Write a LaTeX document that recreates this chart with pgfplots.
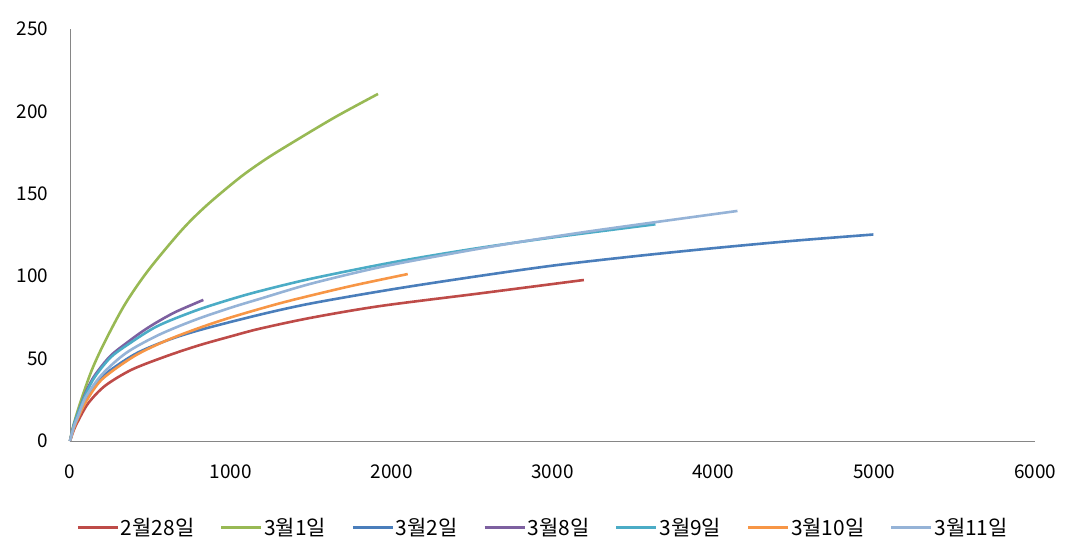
\documentclass[border=0pt]{standalone}
\usepackage{fontspec}
\setmainfont{Noto Sans CJK KR}
\usepackage{pgfplots}
\pgfplotsset{compat=1.18}

\definecolor{sRed}{HTML}{BE4B48}
\definecolor{sGreen}{HTML}{98B954}
\definecolor{sBlue}{HTML}{4A7EBB}
\definecolor{sPurple}{HTML}{7D60A0}
\definecolor{sTeal}{HTML}{4BACC6}
\definecolor{sOrange}{HTML}{F79646}
\definecolor{sLight}{HTML}{95B3D7}
\definecolor{axgray}{HTML}{868686}

\begin{document}
\begin{tikzpicture}
\begin{axis}[
    name=ax,
    scale only axis,
    width=965bp, height=412bp,
    xmin=0, xmax=6000,
    ymin=0, ymax=250,
    xtick={0,1000,...,6000},
    ytick={0,50,...,250},
    axis lines=left,
    axis line style={-, draw=axgray, line width=0.9bp},
    major tick length=0pt,
    font=\fontsize{19}{22}\selectfont,
    /pgf/number format/assume math mode=true,
    /pgf/number format/1000 sep={},
    yticklabel style={xshift=-18bp},
    xticklabel style={yshift=-20bp},
    clip=false,
    every axis plot/.append style={line width=2.6bp, no markers, smooth, tension=0.5},
    legend columns=7,
    legend style={draw=none, fill=none, at={(0.49,-0.21)}, anchor=center,
        font=\fontsize{21}{24}\selectfont,
        /tikz/every even column/.append style={column sep=24bp},
        nodes={inner sep=1.5bp}},
    legend image code/.code={\draw[#1, line width=3bp] (0bp,0bp) -- (40bp,0bp);},
]
% 2월28일
\addplot[sRed] coordinates {
(0,0) (25,7) (52,12.5) (114,23) (218,33.5) (384,43.3) (600,51.5) (800,58)
(1000,63.5) (1182,68.2) (1500,74.8) (1929,81.9) (2551,89.6) (3195,97.7)
};
% 3월1일
\addplot[sGreen] coordinates {
(0,0) (20,9) (62,22.7) (135,42.9) (218,60.5) (342,83) (487,103.6) (695,128)
(850,143) (1058,160) (1220,171.2) (1390,181.5) (1650,196.6) (1915,210.6)
};
% 3월2일
\addplot[sBlue] coordinates {
(0,0) (25,9) (50,15) (100,26) (200,39) (400,52.5) (600,60.9) (809,67.4)
(1182,76.7) (1500,83.5) (2000,92) (2500,99.5) (3000,106.4) (3500,112)
(4000,117) (4500,121.5) (4995,125.3)
};
% 3월8일
\addplot[sPurple] coordinates {
(0,0) (25,10) (50,17) (100,30) (155,40) (250,51.5) (352,59.5) (450,66.5)
(539,72) (650,78) (778,83.5) (829,85.6)
};
% 3월9일
\addplot[sTeal] coordinates {
(0,0) (25,10) (50,17) (100,29) (155,39) (250,50.5) (352,58) (539,69.5)
(778,79) (1000,86) (1182,91) (1500,98.5) (2000,108.3) (2500,116.5)
(3000,123.5) (3640,131.5)
};
% 3월10일
\addplot[sOrange] coordinates {
(0,0) (25,8) (50,14) (100,24) (200,37.5) (400,51.5) (600,61) (800,68.5)
(1000,75) (1250,82.1) (1431,86.7) (1750,94.1) (2100,101.3)
};
% 3월11일
\addplot[sLight] coordinates {
(0,0) (25,9) (50,15) (100,27) (200,40.5) (350,53.5) (550,64.3) (778,73.5)
(1000,80.9) (1182,86.3) (1500,95.5) (1929,105.5) (2400,114.2) (2758,120.2)
(3200,126.8) (3640,132.8) (4150,139.6)
};
\legend{2월28일, 3월1일, 3월2일, 3월8일, 3월9일, 3월10일, 3월11일}
\end{axis}
\path ([xshift=-70bp,yshift=-119bp]ax.south west) rectangle ([xshift=1013bp,yshift=441bp]ax.south west);
\end{tikzpicture}
\end{document}
